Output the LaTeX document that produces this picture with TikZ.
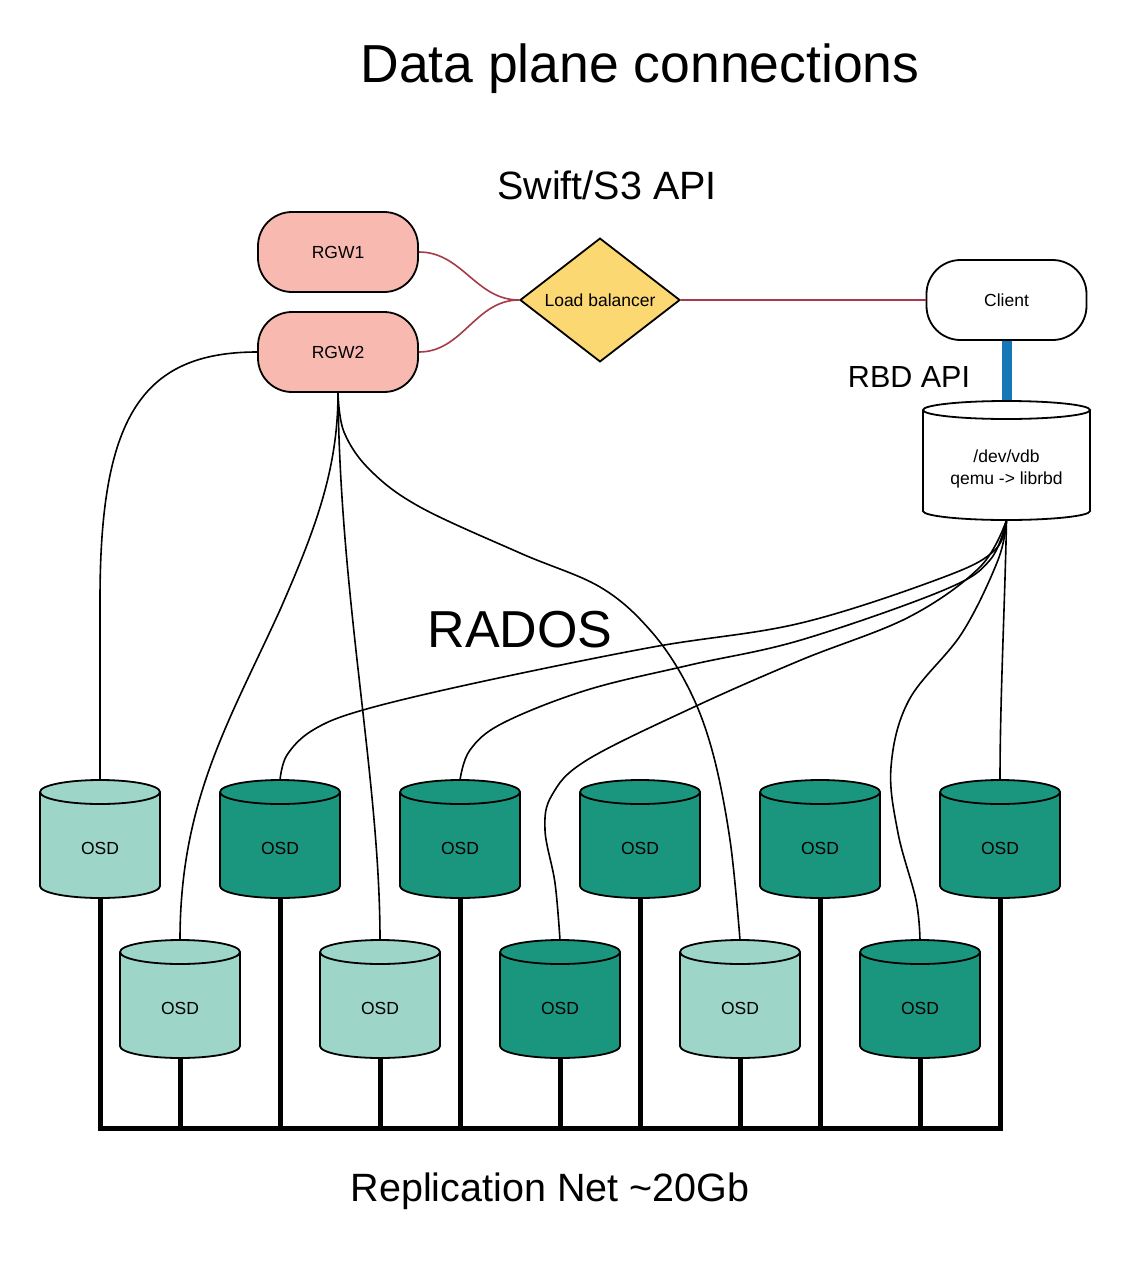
\documentclass[tikz,border=0pt]{standalone}
\usepackage{fontspec}
\setmainfont{Liberation Sans}
\usetikzlibrary{shapes.geometric}
\definecolor{rgwfill}{HTML}{F8B9B1}
\definecolor{lbfill}{HTML}{FBD872}
\definecolor{osdlight}{HTML}{9DD5C9}
\definecolor{osddark}{HTML}{1B967E}
\definecolor{redline}{HTML}{A63A48}
\definecolor{blueline}{HTML}{1577B6}
\tikzset{
  outline/.style={draw=black, line width=1.8pt},
  small/.style={font=\fontsize{17.5}{22}\selectfont},
  capsule/.style={outline, small, rounded corners=34pt, minimum width=160pt, minimum height=80pt, inner sep=0pt},
  lbshape/.style={outline, small, diamond, fill=lbfill, minimum width=160pt, minimum height=120pt, inner sep=0pt},
  osdbox/.style={inner sep=0pt, outer sep=0pt, minimum width=120pt, minimum height=118pt},
  vdbbox/.style={inner sep=0pt, outer sep=0pt, minimum width=167pt, minimum height=119pt},
  lbl/.style={small, inner sep=0pt},
  txt/.style={inner sep=0pt, anchor=base},
  conn/.style={draw=black, line width=1.6pt},
  redconn/.style={draw=redline, line width=1.6pt},
  busline/.style={draw=black, line width=5pt},
}
\newcommand{\cylbody}[6]{%
  \begin{scope}[shift={(#1,#2)}]
    \filldraw[fill=#6, outline] (0,{#4-#5}) ellipse[x radius=#3pt, y radius=#5pt];
    \fill[#6] (-#3,{-#4+#5}) rectangle (#3,{#4-#5});
    \draw[outline] (-#3,{-#4+#5}) -- (-#3,{#4-#5}) (#3,{-#4+#5}) -- (#3,{#4-#5});
    \filldraw[fill=#6, outline] (0,{-#4+#5}) ellipse[x radius=#3pt, y radius=#5pt];
  \end{scope}}
\begin{document}
\begin{tikzpicture}[x=1pt, y=-1pt]
\fill[white] (0,0) rectangle (1130,1285);
\useasboundingbox (0,0) rectangle (1130,1285);

% titles
\node[txt, font=\fontsize{53.5}{60}\selectfont] (title) at (640,82) {Data plane connections};
\node[txt, font=\fontsize{39.5}{46}\selectfont] (swift) at (607,199) {Swift/S3 API};
\node[txt, font=\fontsize{52}{58}\selectfont] (rados) at (520,647) {RADOS};
\node[txt, font=\fontsize{30.5}{36}\selectfont] (rbd) at (909,387) {RBD API};
\node[txt, font=\fontsize{39.5}{46}\selectfont] (repl) at (550,1201) {Replication Net \textasciitilde20Gb};

% top nodes
\node[capsule, fill=rgwfill] (rgw1) at (338,252) {RGW1};
\node[capsule, fill=rgwfill] (rgw2) at (338,352) {RGW2};
\node[lbshape] (lb) at (600,300) {Load balancer};
\node[capsule, fill=white] (client) at (1006.5,300) {Client};
\node[vdbbox] (vdb) at (1006.5,460.5) {};

% red connections
\draw[redconn] (rgw1.east) to[out=0,in=180] (lb.west);
\draw[redconn] (rgw2.east) to[out=0,in=180] (lb.west);
\draw[redconn] (lb.east) -- (client.west);

% OSD anchor nodes (cylinders drawn later)
\node[osdbox] (o1) at (100,839) {};
\node[osdbox] (o2) at (280,839) {};
\node[osdbox] (o3) at (460,839) {};
\node[osdbox] (o4) at (640,839) {};
\node[osdbox] (o5) at (820,839) {};
\node[osdbox] (o6) at (1000,839) {};
\node[osdbox] (b1) at (180,999) {};
\node[osdbox] (b2) at (380,999) {};
\node[osdbox] (b3) at (560,999) {};
\node[osdbox] (b4) at (740,999) {};
\node[osdbox] (b5) at (920,999) {};

% RGW2 connections
\draw[conn] (rgw2.west) .. controls (140,352) and (100,420) .. (100,600) -- (o1.north);
\draw[conn] (rgw2.south) .. controls (338,470) and (315,530) .. (280,610) .. controls (230,720) and (180,800) .. (b1.north);
\draw[conn] (rgw2.south) .. controls (340,600) and (380,780) .. (b2.north);
\draw[conn] plot[smooth, tension=0.6] coordinates {(rgw2.south) (344,432) (370,470) (420,507) (520,553) (600,587) (650,630) (687,685) (712,750) (730,840) (b4.north)};

% vdb connections
\draw[conn] plot[smooth, tension=0.6] coordinates {(vdb.south) (995,550) (944,577) (801,623) (653,647) (480,682) (363,710) (313,730) (287,755) (o2.north)};
\draw[conn] plot[smooth, tension=0.6] coordinates {(vdb.south) (990,560) (944,590) (801,640) (690,665) (587,690) (503,723) (470,750) (o3.north)};
\draw[conn] plot[smooth, tension=0.6] coordinates {(vdb.south) (980,567) (909,617) (801,660) (694,707) (587,760) (552,795) (545,830) (555,883) (b3.north)};
\draw[conn] plot[smooth, tension=0.6] coordinates {(vdb.south) (998,560) (962,633) (909,700) (891,767) (898,833) (916,900) (b5.north)};
\draw[conn] (vdb.south) .. controls (1005,600) and (1000,700) .. (o6.north);

% blue RBD link
\draw[draw=blueline, line width=10pt] (client.south) -- (vdb.north);

% vdb cylinder
\cylbody{1006.5}{460.5}{83.5}{59.5}{9}{white}
\node[small, align=center, inner sep=0pt] (vdbtext) at (1006.5,469) {/dev/vdb\\qemu -> librbd};

% OSD cylinders
\cylbody{100}{839}{60}{59}{12}{osdlight}  \node[lbl] (o1l) at (100,848) {OSD};
\cylbody{280}{839}{60}{59}{12}{osddark}   \node[lbl] (o2l) at (280,848) {OSD};
\cylbody{460}{839}{60}{59}{12}{osddark}   \node[lbl] (o3l) at (460,848) {OSD};
\cylbody{640}{839}{60}{59}{12}{osddark}   \node[lbl] (o4l) at (640,848) {OSD};
\cylbody{820}{839}{60}{59}{12}{osddark}   \node[lbl] (o5l) at (820,848) {OSD};
\cylbody{1000}{839}{60}{59}{12}{osddark}  \node[lbl] (o6l) at (1000,848) {OSD};
\cylbody{180}{999}{60}{59}{12}{osdlight}  \node[lbl] (b1l) at (180,1008) {OSD};
\cylbody{380}{999}{60}{59}{12}{osdlight}  \node[lbl] (b2l) at (380,1008) {OSD};
\cylbody{560}{999}{60}{59}{12}{osddark}   \node[lbl] (b3l) at (560,1008) {OSD};
\cylbody{740}{999}{60}{59}{12}{osdlight}  \node[lbl] (b4l) at (740,1008) {OSD};
\cylbody{920}{999}{60}{59}{12}{osddark}   \node[lbl] (b5l) at (920,1008) {OSD};

% replication bus
\coordinate (bus) at (550,1128);
\draw[busline, line join=miter] (o1.south) -- (o1.south |- bus) -- (o6.south |- bus) -- (o6.south);
\foreach \n in {o2,o3,o4,o5,b1,b2,b3,b4,b5}{
  \draw[busline] (\n.south) -- (\n.south |- bus);
}
\end{tikzpicture}
\end{document}
